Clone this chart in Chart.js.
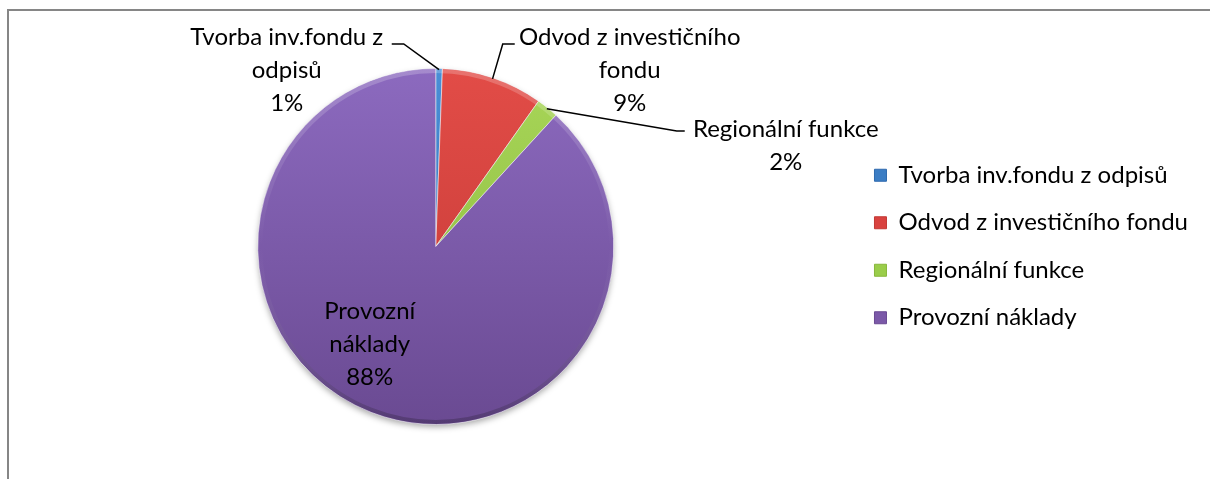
<!DOCTYPE html>
<html><head><meta charset="utf-8">
<script src="https://cdn.jsdelivr.net/npm/chart.js@4/dist/chart.umd.min.js"></script>
<style>
html,body{margin:0;padding:0;background:#fff;overflow:hidden;width:1210px;height:479px;}
#frame{position:absolute;left:7px;top:9px;width:1400px;height:700px;border-left:2px solid #868686;border-top:2px solid #868686;}
#wrap{position:absolute;left:0;top:0;width:1210px;height:479px;}
</style></head><body>
<div id="frame"></div>
<div id="wrap"><canvas id="c"></canvas></div>
<script>
// ---- data ----
const categories = ['Tvorba inv.fondu z odpisů', 'Odvod z investičního fondu', 'Regionální funkce', 'Provozní náklady'];
const shares = [0.6, 9.2, 2.0, 88.2];
const labelLines = [['Tvorba inv.fondu z', 'odpisů'], ['Odvod z investičního', 'fondu'], ['Regionální funkce'], ['Provozní', 'náklady']];

// ---- styles ----
const colorsTop = ['#4a8fd6', '#e24c47', '#a8d658', '#8c6abf'];
const colorsBottom = ['#2f6aae', '#c23935', '#88b63c', '#6a4a92'];
const colorsMid = ['#3b7dc4', '#d9423f', '#9acd4a', '#7b59a8'];
const FONT = 'Lato, "Open Sans", sans-serif';
const FSIZE = 24;
const LINE_H = 33;
// offsets relative to pie centre
const labelLayout = [
  {elbow: [-32, -202.5], end: [-44, -202.5], text: [-149, -209.5]},
  {elbow: [67, -202.5], end: [79, -202.5], text: [194, -209.5]},
  {elbow: [241, -115.5], end: [249, -115.5], text: [350, -117.5]},
  {text: [-66, 64.5]}
];

function grad(ctx, i) {
  const chart = ctx.chart;
  const ca = chart.chartArea;
  if (!ca) return colorsMid[i];
  const g = chart.ctx.createLinearGradient(0, ca.top, 0, ca.bottom);
  g.addColorStop(0, colorsTop[i]);
  g.addColorStop(1, colorsBottom[i]);
  return g;
}

const shadowPlugin = {
  id: 'pieShadow',
  beforeDatasetsDraw(chart) {
    const arc = chart.getDatasetMeta(0).data[0];
    if (!arc) return;
    const p = arc.getProps(['x', 'y', 'outerRadius'], true);
    const ctx = chart.ctx;
    ctx.save();
    ctx.shadowColor = 'rgba(0,0,0,0.35)';
    ctx.shadowBlur = 6;
    ctx.shadowOffsetY = 3;
    ctx.fillStyle = '#6a4a92';
    ctx.beginPath();
    ctx.arc(p.x, p.y, p.outerRadius - 0.5, 0, Math.PI * 2);
    ctx.fill();
    ctx.restore();
  },
  afterDatasetsDraw(chart) {
    const arc = chart.getDatasetMeta(0).data[0];
    if (!arc) return;
    const p = arc.getProps(['x', 'y', 'outerRadius'], true);
    const ctx = chart.ctx;
    ctx.save();
    const g = ctx.createLinearGradient(0, p.y - p.outerRadius, 0, p.y + p.outerRadius);
    g.addColorStop(0, 'rgba(255,255,255,0.22)');
    g.addColorStop(0.5, 'rgba(255,255,255,0.0)');
    g.addColorStop(1, 'rgba(0,0,0,0.22)');
    ctx.strokeStyle = g;
    ctx.lineWidth = 4;
    ctx.beginPath();
    ctx.arc(p.x, p.y, p.outerRadius - 2.5, 0, Math.PI * 2);
    ctx.stroke();
    ctx.restore();
  }
};

const labelPlugin = {
  id: 'pieLabels',
  afterDatasetsDraw(chart) {
    const meta = chart.getDatasetMeta(0);
    const ctx = chart.ctx;
    const total = shares.reduce((a, b) => a + b, 0);
    ctx.save();
    ctx.font = FSIZE + 'px ' + FONT;
    ctx.fillStyle = '#000';
    ctx.textAlign = 'center';
    ctx.textBaseline = 'middle';
    meta.data.forEach((arc, i) => {
      const p = arc.getProps(['x', 'y', 'startAngle', 'endAngle', 'outerRadius'], true);
      const cx = p.x, cy = p.y;
      const lay = labelLayout[i];
      const pct = Math.round(shares[i] / total * 100) + '%';
      if (lay.elbow) {
        const mid = (p.startAngle + p.endAngle) / 2;
        const r = p.outerRadius - 1;
        ctx.beginPath();
        ctx.strokeStyle = '#000';
        ctx.lineWidth = 1.5;
        ctx.moveTo(cx + Math.cos(mid) * r, cy + Math.sin(mid) * r);
        ctx.lineTo(cx + lay.elbow[0], cy + lay.elbow[1]);
        ctx.lineTo(cx + lay.end[0], cy + lay.end[1]);
        ctx.stroke();
      }
      const lines = labelLines[i].concat([pct]);
      lines.forEach((t, k) => {
        ctx.fillText(t, cx + lay.text[0], cy + lay.text[1] + k * LINE_H);
      });
    });
    ctx.restore();
  }
};

new Chart(document.getElementById('c'), {
  type: 'pie',
  data: {
    labels: categories,
    datasets: [{
      data: shares,
      backgroundColor: (ctx) => grad(ctx, ctx.dataIndex),
      borderColor: 'rgba(255,255,255,0.55)',
      borderWidth: 1,
      hoverOffset: 0
    }]
  },
  options: {
    responsive: true,
    maintainAspectRatio: false,
    animation: false,
    layout: {padding: {top: 68, bottom: 54, left: 20.5, right: 12}},
    plugins: {
      tooltip: {enabled: false},
      legend: {
        position: 'right',
        align: 'center',
        labels: {
          boxWidth: 12,
          boxHeight: 12,
          padding: 23.5,
          color: '#000',
          font: {family: FONT, size: FSIZE},
          generateLabels: (chart) => categories.map((c, i) => ({
            text: c,
            fillStyle: colorsMid[i],
            strokeStyle: colorsBottom[i],
            lineWidth: 1,
            index: i,
            hidden: false
          }))
        }
      }
    }
  },
  plugins: [shadowPlugin, labelPlugin]
});
</script>
</body></html>
